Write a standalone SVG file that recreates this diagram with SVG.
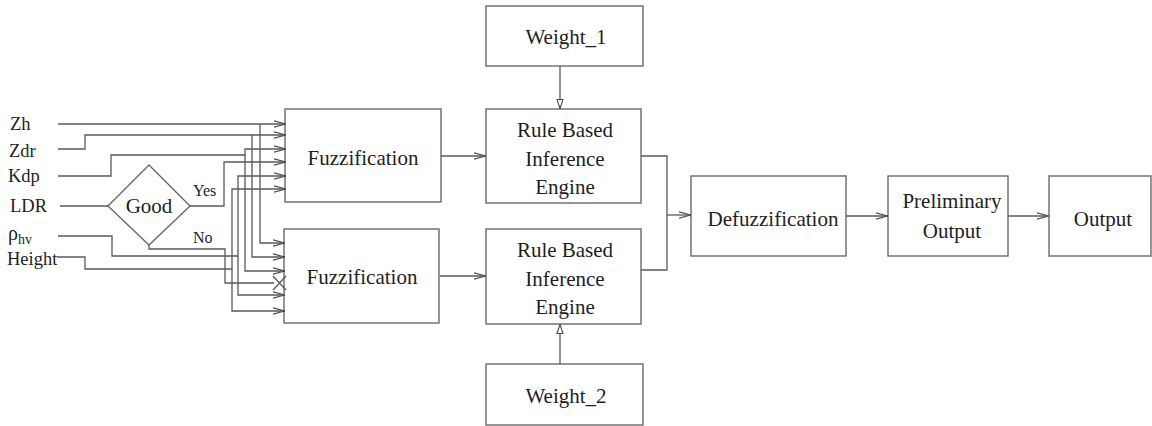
<svg xmlns="http://www.w3.org/2000/svg" width="1152" height="426" viewBox="0 0 1152 426">
  <style>
    .box { fill: #ffffff; stroke: #6a6a6a; stroke-width: 1.4; }
    .wire { fill: none; stroke: #5a5a5a; stroke-width: 1.3; }
    text { font-family: 'Liberation Serif', 'DejaVu Serif', 'Times New Roman', serif; fill: #1e1e1e; }
    .big { font-size: 21px; text-anchor: middle; }
    .inp { font-size: 18.5px; }
    .small { font-size: 16px; }
  </style>
  <defs>
    <marker id="vee" viewBox="0 0 12 8" refX="12" refY="4" markerWidth="12" markerHeight="8" markerUnits="userSpaceOnUse" orient="auto">
      <path d="M0,0.8 L12,4 L0,7.2" fill="none" stroke="#4a4a4a" stroke-width="1.2"/>
    </marker>
    <marker id="tri" viewBox="0 0 10 8" refX="10" refY="4" markerWidth="10" markerHeight="8" markerUnits="userSpaceOnUse" orient="auto">
      <path d="M0.5,1 L9.5,4 L0.5,7 Z" fill="#ffffff" stroke="#4a4a4a" stroke-width="1.1"/>
    </marker>
  </defs>

  <rect width="1152" height="426" fill="#ffffff"/>

  <!-- input labels -->
  <g id="inputs">
    <text class="inp" x="10" y="130">Zh</text>
    <text class="inp" x="9" y="157">Zdr</text>
    <text class="inp" x="8" y="182">Kdp</text>
    <text class="inp" x="10" y="212">LDR</text>
    <text x="8" y="240" font-size="20">ρ<tspan font-size="14" dy="4">hv</tspan></text>
    <text class="inp" x="7" y="265">Height</text>
  </g>

  <!-- quality test on LDR -->
  <g id="good">
    <polygon class="box" points="108,206 149,165 190,206 149,245"/>
    <text x="149" y="213" font-size="21" text-anchor="middle">Good</text>
    <text class="small" x="193" y="196">Yes</text>
    <text class="small" x="193" y="243">No</text>
  </g>

  <g id="fuzz1">
    <rect class="box" x="285" y="109" width="156" height="93"/>
    <text class="big" x="363" y="165">Fuzzification</text>
  </g>
  <g id="fuzz2">
    <rect class="box" x="284" y="229" width="155" height="94"/>
    <text class="big" x="362" y="284">Fuzzification</text>
  </g>

  <g id="weight1">
    <rect class="box" x="486" y="6" width="157" height="60"/>
    <text class="big" x="566" y="44">Weight_1</text>
  </g>
  <g id="rule1">
    <rect class="box" x="486" y="109" width="155" height="94"/>
    <text class="big" x="565" y="137">Rule Based</text>
    <text class="big" x="565" y="166">Inference</text>
    <text class="big" x="565" y="194">Engine</text>
  </g>
  <g id="rule2">
    <rect class="box" x="486" y="229" width="155" height="95"/>
    <text class="big" x="565" y="257">Rule Based</text>
    <text class="big" x="565" y="286">Inference</text>
    <text class="big" x="565" y="314">Engine</text>
  </g>
  <g id="weight2">
    <rect class="box" x="486" y="364" width="157" height="61"/>
    <text class="big" x="566" y="403">Weight_2</text>
  </g>

  <g id="defuzz">
    <rect class="box" x="691" y="176" width="155" height="80"/>
    <text class="big" x="773" y="226" textLength="131" lengthAdjust="spacingAndGlyphs">Defuzzification</text>
  </g>
  <g id="prelim">
    <rect class="box" x="888" y="176" width="120" height="80"/>
    <text class="big" x="952" y="208">Preliminary</text>
    <text class="big" x="952" y="238">Output</text>
  </g>
  <g id="output">
    <rect class="box" x="1049" y="176" width="102" height="80"/>
    <text class="big" x="1103" y="226">Output</text>
  </g>

  <g id="connectors">
    <!-- Zh -->
    <path class="wire" d="M58,124 H286" marker-end="url(#vee)"/>
    <path class="wire" d="M260,124 V243 H285" marker-end="url(#vee)"/>
    <!-- Zdr -->
    <path class="wire" d="M58,149 H85 V135 H286" marker-end="url(#vee)"/>
    <path class="wire" d="M252,135 V257 H285" marker-end="url(#vee)"/>
    <!-- Kdp -->
    <path class="wire" d="M58,176 H111 V155 H245 V149 H286" marker-end="url(#vee)"/>
    <path class="wire" d="M245,155 V271 H285" marker-end="url(#vee)"/>
    <!-- LDR through the quality test -->
    <path class="wire" d="M60,206 H108"/>
    <path class="wire" d="M190,206 H224 V162 H286" marker-end="url(#vee)"/>
    <path class="wire" d="M149,245 V249 H225 V283 H274"/>
    <path class="wire" d="M273,276 L286,290 M273,290 L286,276"/>
    <!-- rho_hv -->
    <path class="wire" d="M58,236 H112 V256 H238 V176 H286" marker-end="url(#vee)"/>
    <path class="wire" d="M238,256 V295 H285" marker-end="url(#vee)"/>
    <!-- Height -->
    <path class="wire" d="M57,257 H85 V269 H232 V189 H286" marker-end="url(#vee)"/>
    <path class="wire" d="M232,269 V311 H285" marker-end="url(#vee)"/>

    <!-- fuzzification to inference -->
    <path class="wire" d="M441,156 H486" marker-end="url(#vee)"/>
    <path class="wire" d="M440,276 H486" marker-end="url(#vee)"/>

    <!-- weights -->
    <path class="wire" d="M560,66 V109" marker-end="url(#tri)"/>
    <path class="wire" d="M560,364 V324" marker-end="url(#tri)"/>

    <!-- merge into defuzzification -->
    <path class="wire" d="M641,156 H667 V270 H641"/>
    <path class="wire" d="M667,215 H691" marker-end="url(#vee)"/>

    <!-- output chain -->
    <path class="wire" d="M846,216 H888" marker-end="url(#vee)"/>
    <path class="wire" d="M1008,216 H1049" marker-end="url(#vee)"/>
  </g>
</svg>
